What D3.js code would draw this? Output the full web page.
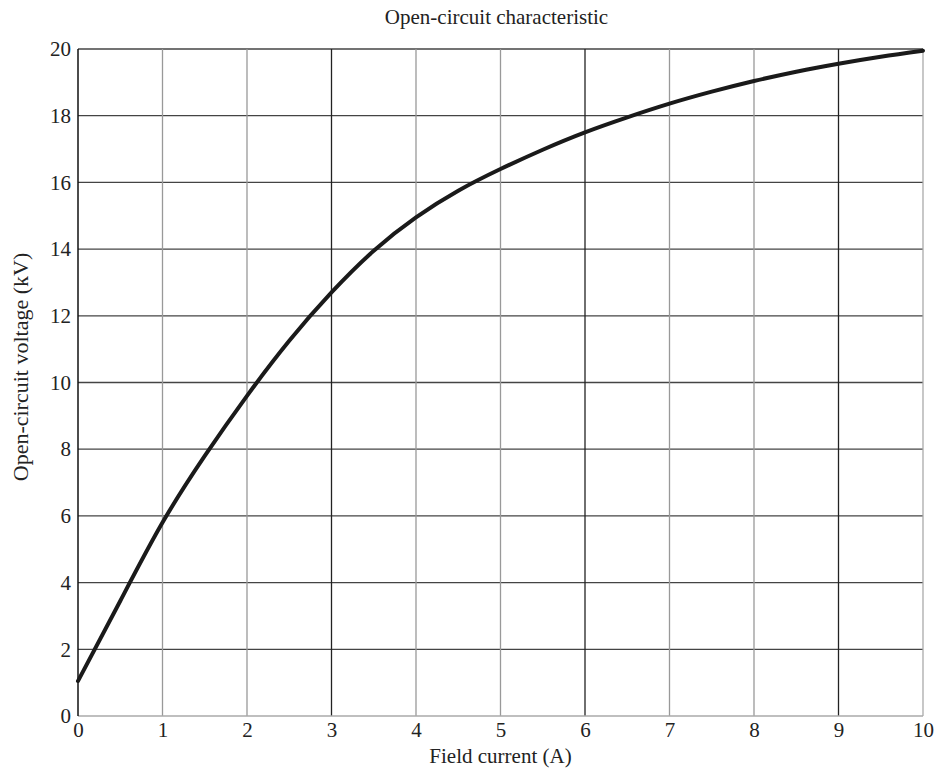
<!DOCTYPE html>
<html>
<head>
<meta charset="utf-8">
<script src="https://cdn.jsdelivr.net/npm/d3@7"></script>
<style>
  body { margin: 0; background: #fff; }
  text { font-family: "Liberation Serif", "DejaVu Serif", serif; fill: #222; }
</style>
</head>
<body>
<div class="chart"></div>
<script>
// field current (A) and open-circuit voltage (kV)
const fieldCurrent = [0, 0.5, 1, 1.5, 2, 2.5, 3, 3.5, 4, 4.5, 5, 5.5, 6, 6.5, 7, 7.5, 8, 8.5, 9, 9.5, 10];
const ocVoltage = [1.05, 3.45, 5.8, 7.8, 9.6, 11.25, 12.7, 13.95, 14.95, 15.75, 16.4, 16.98, 17.5, 17.95, 18.36, 18.72, 19.04, 19.32, 19.56, 19.77, 19.95];
const xTicks = [0, 1, 2, 3, 4, 5, 6, 7, 8, 9, 10];
const yTicks = [0, 2, 4, 6, 8, 10, 12, 14, 16, 18, 20];
const darkXTicks = [3, 6, 9];

const width = 936, height = 774;
const margin = {top: 49, right: 13, bottom: 58, left: 78};

const svg = d3.select('.chart')
  .append('svg')
    .attr('width', width)
    .attr('height', height);

const x = d3.scaleLinear().domain([0, 10]).range([margin.left, width - margin.right]);
const y = d3.scaleLinear().domain([0, 20]).range([height - margin.bottom, margin.top]);

const grid = svg.append('g');

// horizontal grid lines
grid.selectAll('line.h')
  .data(yTicks.filter(d => d > 0))
  .enter()
  .append('line')
    .attr('class', 'h')
    .attr('x1', x(0))
    .attr('x2', x(10))
    .attr('y1', d => y(d))
    .attr('y2', d => y(d))
    .style('stroke', '#444')
    .style('stroke-width', 1.3);

// vertical grid lines
grid.selectAll('line.v')
  .data(xTicks.filter(d => d > 0))
  .enter()
  .append('line')
    .attr('class', 'v')
    .attr('x1', d => x(d))
    .attr('x2', d => x(d))
    .attr('y1', y(0))
    .attr('y2', y(20))
    .style('stroke', d => darkXTicks.includes(d) ? '#222' : (d === 10 ? '#aaa' : '#999'))
    .style('stroke-width', 1.3);

// bottom axis
svg.append('line')
  .attr('x1', x(0)).attr('x2', x(10))
  .attr('y1', y(0)).attr('y2', y(0))
  .style('stroke', '#aaa').style('stroke-width', 1.5);

// left axis
svg.append('line')
  .attr('x1', x(0)).attr('x2', x(0))
  .attr('y1', y(0)).attr('y2', y(20))
  .style('stroke', '#111').style('stroke-width', 1.5);

const xAxis = svg.append('g')
  .attr('transform', `translate(0, ${y(0)})`)
  .call(d3.axisBottom(x).tickValues(xTicks).tickSize(0).tickPadding(6).tickFormat(d3.format('d')));
xAxis.select('.domain').remove();
xAxis.selectAll('text').attr('font-size', '21px').style('font-family', null);

const yAxis = svg.append('g')
  .attr('transform', `translate(${x(0)}, 0)`)
  .call(d3.axisLeft(y).tickValues(yTicks).tickSize(0).tickPadding(7).tickFormat(d3.format('d')));
yAxis.select('.domain').remove();
yAxis.selectAll('text').attr('font-size', '21px').style('font-family', null);

const line = d3.line()
  .x((d, i) => x(fieldCurrent[i]))
  .y(d => y(d))
  .curve(d3.curveNatural);

svg.append('path')
  .datum(ocVoltage)
  .attr('d', line)
  .style('fill', 'none')
  .style('stroke', '#1a1a1a')
  .style('stroke-width', 4)
  .style('stroke-linecap', 'round');

svg.append('text')
  .attr('x', (x(0) + x(10)) / 2 - 4)
  .attr('y', 24)
  .attr('text-anchor', 'middle')
  .attr('font-size', '21px')
  .text('Open-circuit characteristic');

svg.append('text')
  .attr('x', (x(0) + x(10)) / 2)
  .attr('y', 763)
  .attr('text-anchor', 'middle')
  .attr('font-size', '21px')
  .text('Field current (A)');

svg.append('text')
  .attr('transform', `translate(28, 367) rotate(-90)`)
  .attr('text-anchor', 'middle')
  .attr('font-size', '22px')
  .text('Open-circuit voltage (kV)');
</script>
</body>
</html>
